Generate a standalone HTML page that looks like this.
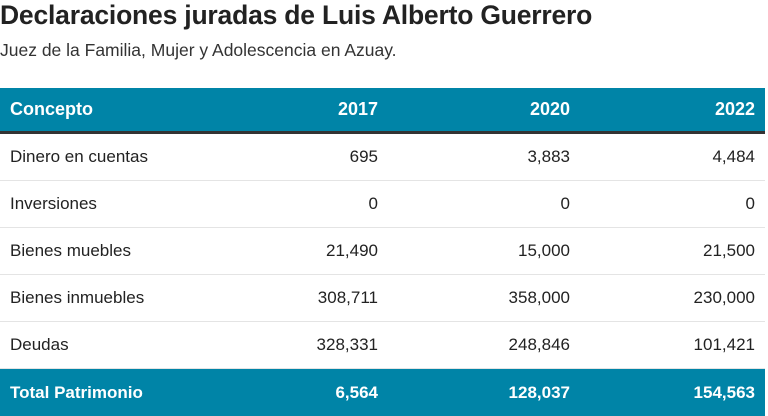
<!DOCTYPE html>
<html><head><style>
body{margin:0;width:768px;height:416px;overflow:hidden;background:#fff;font-family:"Liberation Sans",sans-serif;color:#222}
h1{position:absolute;left:0;top:0;margin:0;font-size:26.5px;font-weight:bold;letter-spacing:-0.2px;line-height:30px}
.sub{position:absolute;left:0;top:40px;font-size:17.5px;color:#333}
table{position:absolute;left:0;top:88px;width:765px;border-collapse:collapse;font-size:17px;table-layout:fixed}
td,th{padding:0 10px}
th{background:#0084a7;color:#fff;height:43px;font-weight:bold;font-size:18px;border-bottom:3px solid #333}
td{height:46px;border-bottom:1px solid #e4e4e4}
.r{text-align:right}
th.l{text-align:left}
tr.t td{background:#0084a7;color:#fff;font-weight:bold;height:47px;border:none}
</style></head><body>
<h1>Declaraciones juradas de Luis Alberto Guerrero</h1>
<div class="sub">Juez de la Familia, Mujer y Adolescencia en Azuay.</div>
<table>
<colgroup><col style="width:300px"><col style="width:88px"><col style="width:192px"><col style="width:185px"></colgroup>
<tr><th class="l">Concepto</th><th class="r">2017</th><th class="r">2020</th><th class="r">2022</th></tr>
<tr><td>Dinero en cuentas</td><td class="r">695</td><td class="r">3,883</td><td class="r">4,484</td></tr>
<tr><td>Inversiones</td><td class="r">0</td><td class="r">0</td><td class="r">0</td></tr>
<tr><td>Bienes muebles</td><td class="r">21,490</td><td class="r">15,000</td><td class="r">21,500</td></tr>
<tr><td>Bienes inmuebles</td><td class="r">308,711</td><td class="r">358,000</td><td class="r">230,000</td></tr>
<tr><td>Deudas</td><td class="r">328,331</td><td class="r">248,846</td><td class="r">101,421</td></tr>
<tr class="t"><td>Total Patrimonio</td><td class="r">6,564</td><td class="r">128,037</td><td class="r">154,563</td></tr>
</table>
</body></html>
